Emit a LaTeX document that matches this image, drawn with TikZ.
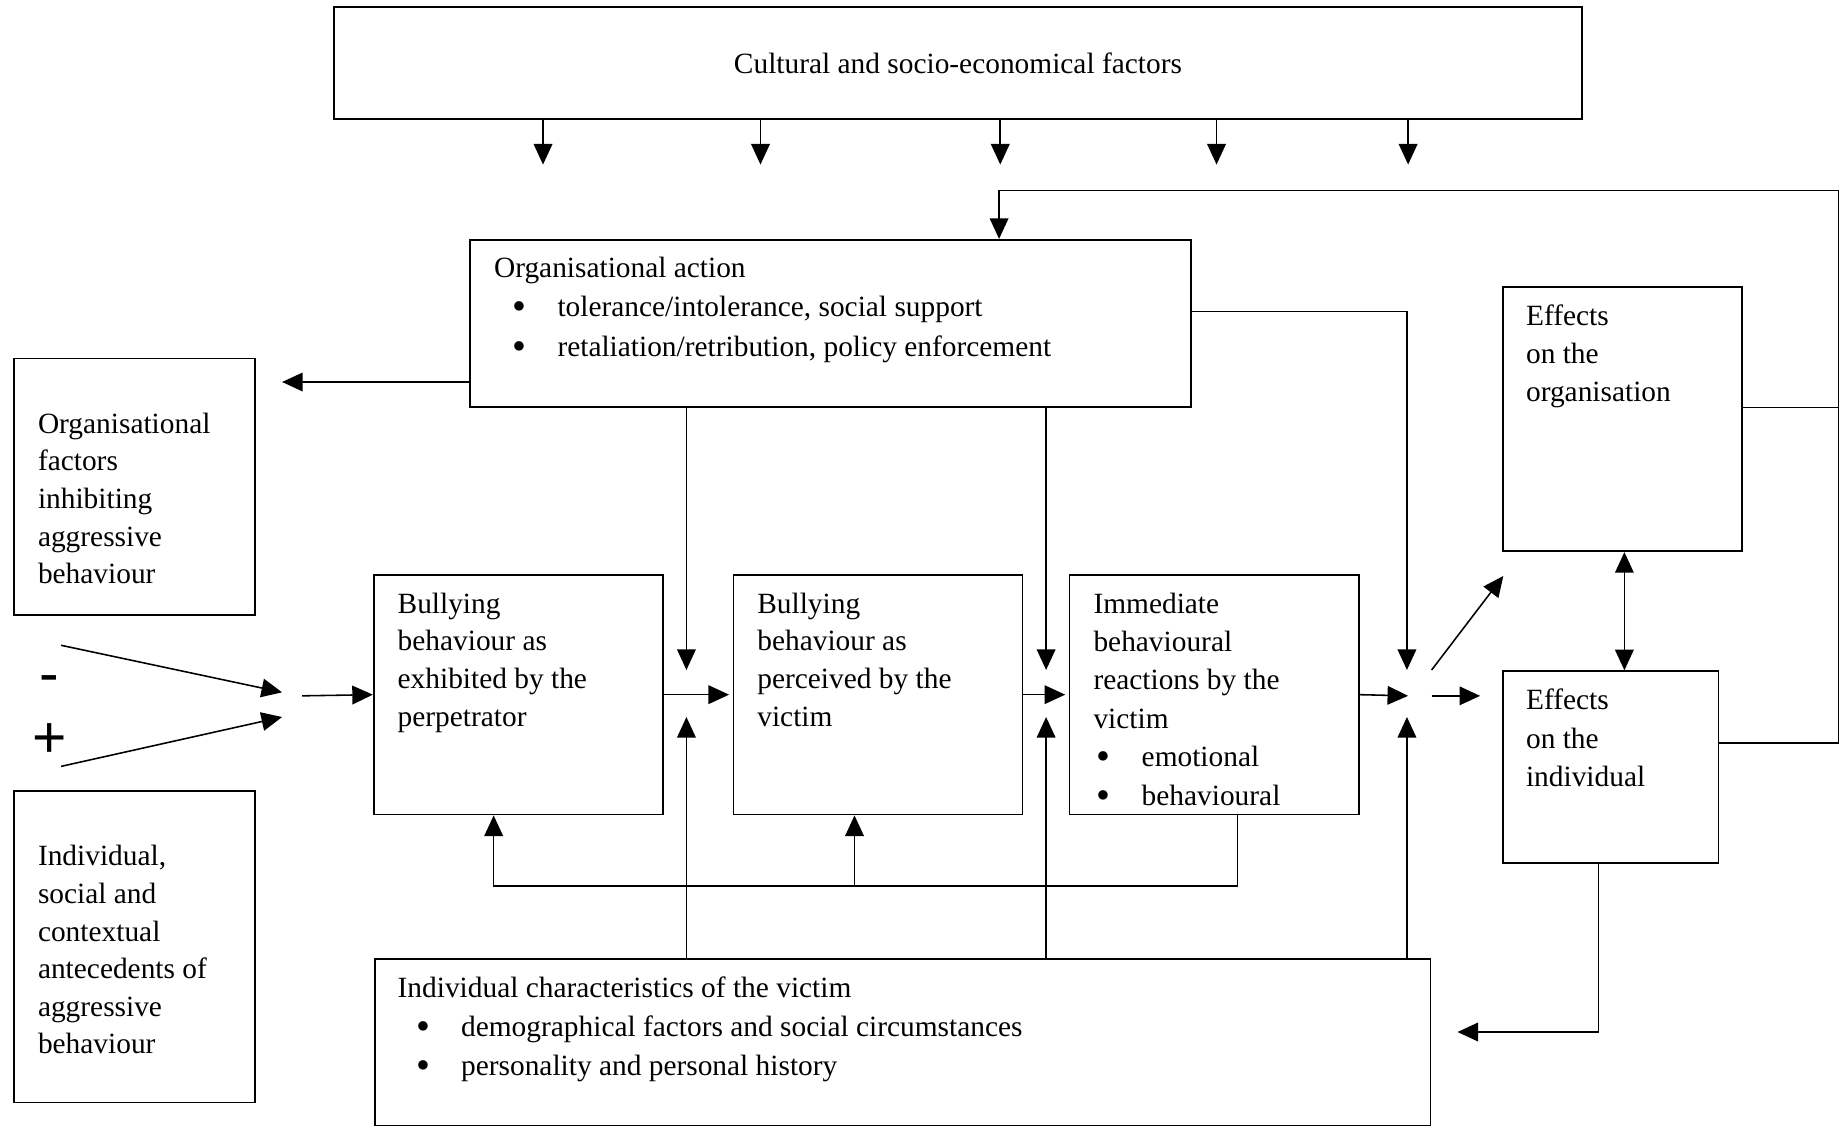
\documentclass[tikz,border=0pt]{standalone}
\usepackage{fontspec}
\usepackage{graphicx}
\setmainfont{Liberation Serif}
\newfontfamily\sansf{Liberation Sans}
\usetikzlibrary{arrows.meta,fit}
\newcommand\mybul[2]{\hspace*{#1}\makebox[#2][l]{\raisebox{-0.22ex}{\scalebox{1.35}{\textbullet}}}}
\begin{document}
\begin{tikzpicture}[x=0.6pt,y=-0.6pt,
  box/.style={draw,line width=0.9pt,inner sep=0pt},
  txt/.style={anchor=north west,inner sep=0pt,align=left,font=\fontsize{15}{19.2}\selectfont},
  arr/.style={line width=0.8pt,-{Triangle[length=10.5pt,width=9.5pt]}},
  ln/.style={line width=0.8pt},
  dbl/.style={line width=0.8pt,{Triangle[length=10.5pt,width=9.5pt]}-{Triangle[length=10.5pt,width=9.5pt]}},
  sign/.style={inner sep=0pt,font=\sansf\fontsize{30}{30}\selectfont}]
\useasboundingbox (0,0) rectangle (1568,959);

% boxes
\node[box,fit={(284,6)(1346,101)}] (cult) {};
\node[inner sep=0pt,font=\fontsize{15}{19}\selectfont] (cultt) at (cult.center) {Cultural and socio-economical factors};

\node[box,fit={(400,204)(1013,346)}] (orgact) {};
\node[txt,font=\fontsize{15}{20.4}\selectfont] (orgactt) at (420,218) {Organisational action\\
\mybul{9.4pt}{23pt}tolerance/intolerance, social support\\
\mybul{9.4pt}{23pt}retaliation/retribution, policy enforcement};

\node[box,fit={(12,305)(217,523)}] (orgfac) {};
\node[txt] (orgfact) at (32,351) {Organisational\\factors\\inhibiting\\aggressive\\behaviour};

\node[box,fit={(12,673)(217,938)}] (ante) {};
\node[txt] (antet) at (32,719) {Individual,\\social and\\contextual\\antecedents of\\aggressive\\behaviour};

\node[box,fit={(318,489)(564,693)}] (perp) {};
\node[txt] (perpt) at (338,504) {Bullying\\behaviour as\\exhibited by the\\perpetrator};

\node[box,fit={(624,489)(870,693)}] (perc) {};
\node[txt] (perct) at (644,504) {Bullying\\behaviour as\\perceived by the\\victim};

\node[box,fit={(910,489)(1156,693)}] (imm) {};
\node[txt,font=\fontsize{15}{19.6}\selectfont] (immt) at (930,504) {Immediate\\behavioural\\reactions by the\\victim\\
\mybul{1.6pt}{23pt}emotional\\
\mybul{1.6pt}{23pt}behavioural};

\node[box,fit={(1279,244)(1482,469)}] (efforg) {};
\node[txt,font=\fontsize{15}{19.5}\selectfont] (efforgt) at (1298,259) {Effects\\on the\\organisation};

\node[box,fit={(1279,571)(1462,734)}] (effind) {};
\node[txt,font=\fontsize{15}{19.5}\selectfont] (effindt) at (1298,586) {Effects\\on the\\individual};

\node[box,fit={(319,816)(1217,957.5)}] (indchar) {};
\node[txt,font=\fontsize{15}{19.8}\selectfont] (indchart) at (338,831) {Individual characteristics of the victim\\
\mybul{9.4pt}{23pt}demographical factors and social circumstances\\
\mybul{9.4pt}{23pt}personality and personal history};

\node[sign] (minus) at (42,582) {-};
\node[sign] (plus) at (42,630) {+};

% coordinates
\coordinate (t1) at (462,140);
\coordinate (t2) at (647,140);
\coordinate (t3) at (851,140);
\coordinate (t4) at (1035,140);
\coordinate (t5) at (1198,140);
\coordinate (fbR) at (1564,162);
\coordinate (fbL) at (850,162);
\coordinate (ofe) at (240,325);
\coordinate (jt1) at (584,570);
\coordinate (jt2) at (890,570);
\coordinate (jt3) at (1197,570);
\coordinate (jb1) at (584,610);
\coordinate (jb2) at (890,610);
\coordinate (jb3) at (1197,610);
\coordinate (jin) at (1198,592);
\coordinate (jout) at (1218,592);
\coordinate (jd) at (1218,570);
\coordinate (de) at (1279,490);
\coordinate (dx) at (1382,400);
\coordinate (ie) at (1240,878);
\coordinate (m1) at (52,549);
\coordinate (m1e) at (240,589);
\coordinate (p1) at (52,652);
\coordinate (p1e) at (240,610);
\coordinate (jl) at (257,592);
\coordinate (fbb) at (1053,754);
\coordinate (fbl) at (420,754);
\coordinate (fbm) at (727,754);

% top arrows
\foreach \c in {t1,t2,t3,t4,t5}
  \draw[arr] (cult.south -| \c) -- (\c);

% feedback from effects
\draw[arr] ([yshift=12.3pt]effind.east) -| (fbR) -- (fbL) -- (orgact.north -| fbL);
\draw[ln] ([yshift=6pt]efforg.east) -- ([yshift=6pt]efforg.east -| fbR);

% organisational action outputs
\draw[arr] ([yshift=-30pt]orgact.west) -- (ofe);
\draw[arr] ([yshift=6pt]orgact.east) -| (jt3);
\draw[arr] (orgact.south -| jt1) -- (jt1);
\draw[arr] (orgact.south -| jt2) -- (jt2);

% individual characteristics inputs
\draw[arr] (indchar.north -| jb1) -- (jb1);
\draw[arr] (indchar.north -| jb2) -- (jb2);
\draw[arr] (indchar.north -| jb3) -- (jb3);

% main chain
\draw[arr] (m1) -- (m1e);
\draw[arr] (p1) -- (p1e);
\draw[arr] (jl) -- (perp.west);
\draw[arr] (perp.east) -- ([xshift=-1.8pt]perc.west);
\draw[arr] (perc.east) -- ([xshift=-1.8pt]imm.west);
\draw[arr] (imm.east) -- (jin);
\draw[arr,shorten >=11.4pt] (jout) -- (jout -| effind.west);
\draw[arr] (jd) -- (de);
\draw[dbl] (efforg.south -| dx) -- (effind.north -| dx);
\draw[arr] ([xshift=-6.3pt]effind.south) |- (ie);

% feedback loop below
\draw[arr] (imm.south -| fbb) -- (fbb) -- (fbl) -- (perp.south -| fbl);
\draw[arr] (fbm) -- (perc.south -| fbm);
\end{tikzpicture}
\end{document}
